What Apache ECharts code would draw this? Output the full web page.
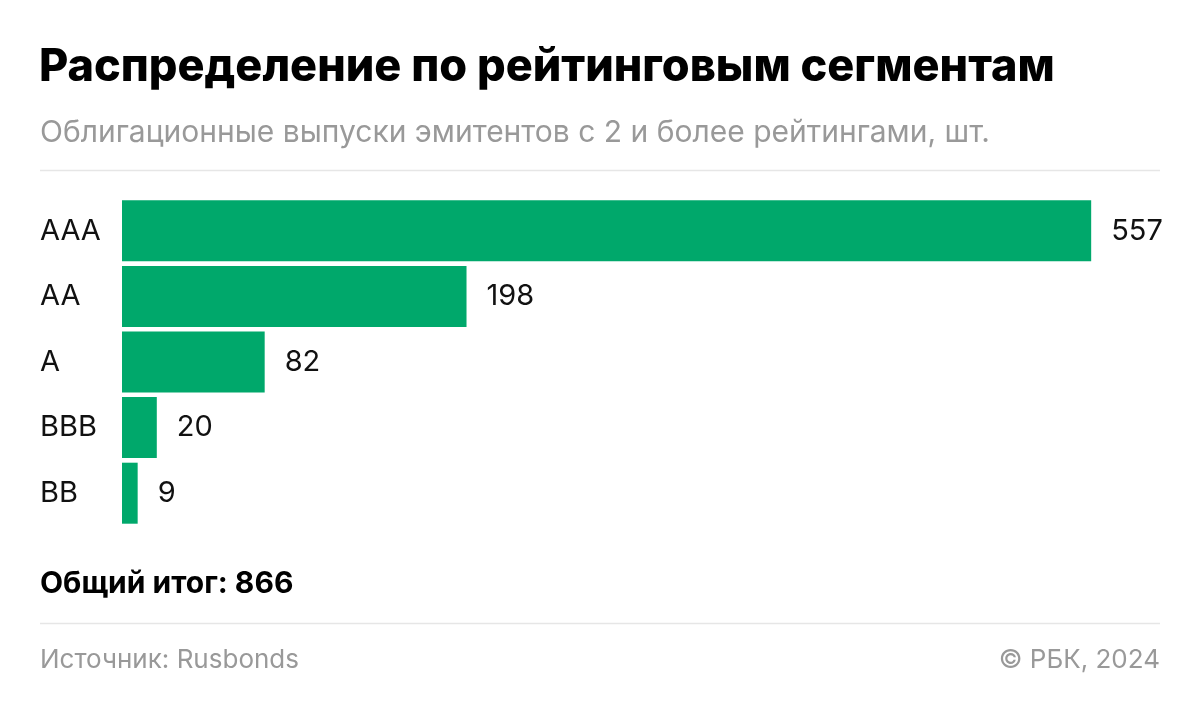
<!DOCTYPE html>
<html><head><meta charset="utf-8">
<script src="https://cdn.jsdelivr.net/npm/echarts@6/dist/echarts.min.js"></script>
<style>html,body{margin:0;padding:0;background:#fff}#c{width:1200px;height:717px}</style>
</head><body><div id="c"></div>
<script>
const categories = ['AAA', 'AA', 'A', 'BBB', 'BB'];
const values = [557, 198, 82, 20, 9];
const titleText = 'Распределение по рейтинговым сегментам';
const subtitleText = 'Облигационные выпуски эмитентов с 2 и более рейтингами, шт.';
const totalText = 'Общий итог: 866';
const sourceText = 'Источник: Rusbonds';
const copyrightText = '© РБК, 2024';

const chart = echarts.init(document.getElementById('c'));
const font = 'Inter, "Noto Sans", sans-serif';
chart.setOption({
  backgroundColor: '#fff',
  animation: false,
  title: [
    {text: titleText, left: 34, top: 40, textStyle: {fontFamily: font, fontSize: 45, fontWeight: 800, color: '#000'}},
    {text: subtitleText, left: 35, top: 113, textStyle: {fontFamily: font, fontSize: 30, fontWeight: 400, color: '#999'}},
    {text: totalText, left: 35, top: 564, textStyle: {fontFamily: font, fontSize: 30, fontWeight: 700, color: '#000'}},
    {text: sourceText, left: 35, top: 642, textStyle: {fontFamily: font, fontSize: 26, fontWeight: 400, color: '#999'}},
    {text: copyrightText, right: 35, top: 642, textStyle: {fontFamily: font, fontSize: 26, fontWeight: 400, color: '#999'}}
  ],
  graphic: [
    {type: 'line', shape: {x1: 40, y1: 170.5, x2: 1160, y2: 170.5}, style: {stroke: '#e6e6e6', lineWidth: 1.5}},
    {type: 'line', shape: {x1: 40, y1: 623.5, x2: 1160, y2: 623.5}, style: {stroke: '#e6e6e6', lineWidth: 1.5}}
  ],
  grid: {left: 122, width: 1044, top: 198, height: 328, containLabel: false},
  xAxis: {type: 'value', min: 0, max: 600, show: false},
  yAxis: {
    type: 'category', data: categories, inverse: true,
    axisLine: {show: false}, axisTick: {show: false}, splitLine: {show: false},
    axisLabel: {align: 'left', margin: 82, fontFamily: font, fontSize: 29, color: '#111'}
  },
  series: [{
    type: 'bar', data: values, barCategoryGap: '7%',
    itemStyle: {color: '#00a86b'},
    label: {show: true, position: 'right', distance: 20, fontFamily: font, fontSize: 29, color: '#111'}
  }]
});
</script></body></html>
